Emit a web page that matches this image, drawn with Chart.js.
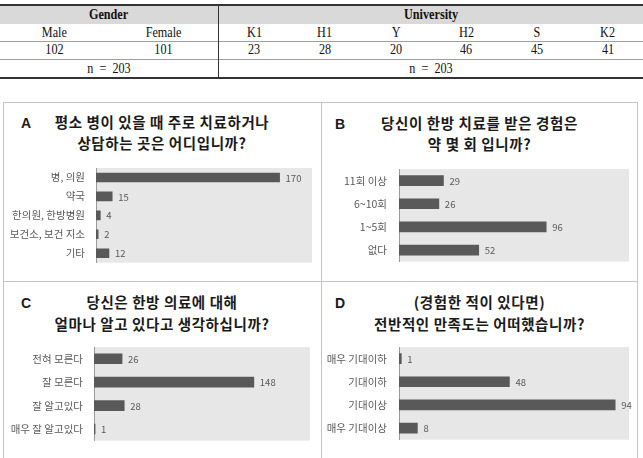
<!DOCTYPE html>
<html><head><meta charset="utf-8">
<script src="https://cdn.jsdelivr.net/npm/chart.js@4.4.1/dist/chart.umd.min.js"></script>
<style>
body{margin:0;background:#fff;width:643px;height:458px;overflow:hidden;position:relative;font-family:"Noto Sans CJK KR",sans-serif;}
.ab{position:absolute;}
.cell{position:absolute;text-align:center;font-family:"Liberation Serif",serif;font-size:14px;color:#111;line-height:18px;height:18px;}
.cell span{display:inline-block;transform:scaleX(0.87);white-space:pre;}
.hd{font-weight:bold;}
.ttl{position:absolute;text-align:center;font-family:"Noto Sans CJK KR",sans-serif;font-weight:bold;font-size:14.5px;letter-spacing:0.6px;line-height:20px;color:#1a1a1a;}
.let{position:absolute;font-family:"Liberation Sans",Arial,sans-serif;font-weight:bold;font-size:14px;line-height:20px;color:#1a1a1a;}
canvas{position:absolute;}
</style>
</head><body>
<div id="root"></div>
<script>
// ---- table data ----
const groupHeaders = ['Gender', 'University'];
const genderCats = ['Male', 'Female'];
const genderCounts = [102, 101];
const univCats = ['K1', 'H1', 'Y', 'H2', 'S', 'K2'];
const univCounts = [23, 28, 20, 46, 45, 41];
const totals = ['n = 203', 'n = 203'];

// ---- chart data ----
const titleA = ['평소 병이 있을 때 주로 치료하거나', '상담하는 곳은 어디입니까?'];
const catsA = ['병, 의원', '약국', '한의원, 한방병원', '보건소, 보건 지소', '기타'];
const valsA = [170, 15, 4, 2, 12];

const titleB = ['당신이 한방 치료를 받은 경험은', '약 몇 회 입니까?'];
const catsB = ['11회 이상', '6~10회', '1~5회', '없다'];
const valsB = [29, 26, 96, 52];

const titleC = ['당신은 한방 의료에 대해', '얼마나 알고 있다고 생각하십니까?'];
const catsC = ['전혀 모른다', '잘 모른다', '잘 알고있다', '매우 잘 알고있다'];
const valsC = [26, 148, 28, 1];

const titleD = ['(경험한 적이 있다면)', '전반적인 만족도는 어떠했습니까?'];
const catsD = ['매우 기대이하', '기대이하', '기대이상', '매우 기대이상'];
const valsD = [1, 48, 94, 8];

const panelLetters = ['A', 'B', 'C', 'D'];
const axisMax = [200, 150, 200, 100];

const root = document.getElementById('root');
function el(tag, cls, style, html) {
  const e = document.createElement(tag);
  if (cls) e.className = cls;
  Object.assign(e.style, style || {});
  if (html !== undefined) e.innerHTML = html;
  root.appendChild(e);
  return e;
}
// ---- table drawing ----
el('div', 'ab', {left:'0px', top:'6px', width:'643px', height:'18px', background:'#d9d9d9'});
el('div', 'ab', {left:'0px', top:'4px', width:'643px', height:'2px', background:'#333'});
el('div', 'ab', {left:'0px', top:'41px', width:'643px', height:'1px', background:'#a0a0a0'});
el('div', 'ab', {left:'0px', top:'59px', width:'643px', height:'1px', background:'#a0a0a0'});
el('div', 'ab', {left:'0px', top:'77px', width:'643px', height:'2px', background:'#333'});
el('div', 'ab', {left:'218px', top:'4px', width:'1px', height:'75px', background:'#333'});
const gL = 0, gW = 218, uL = 219, uW = 424;
function cell(x, w, y, txt, bold) {
  el('div', 'cell' + (bold ? ' hd' : ''), {left:x+'px', width:w+'px', top:y+'px'}, '<span>' + txt + '</span>');
}
cell(gL, gW, 6, groupHeaders[0], true);
cell(uL, uW, 6, groupHeaders[1], true);
genderCats.forEach((c, i) => { cell(gL + i*gW/2, gW/2, 24, c); cell(gL + i*gW/2, gW/2, 41, String(genderCounts[i])); });
univCats.forEach((c, i) => { cell(uL + i*uW/6, uW/6, 24, c); cell(uL + i*uW/6, uW/6, 41, String(univCounts[i])); });
cell(gL, gW, 60, totals[0].replace(/ /g, '  '));
cell(uL, uW, 60, totals[1].replace(/ /g, '  '));

// ---- panel frames ----
const fc = '#c4c4c4';
el('div', 'ab', {left:'3px', top:'102px', width:'635px', height:'1px', background:fc});
el('div', 'ab', {left:'3px', top:'281px', width:'635px', height:'1px', background:fc});
el('div', 'ab', {left:'3px', top:'102px', width:'1px', height:'360px', background:fc});
el('div', 'ab', {left:'321px', top:'102px', width:'1px', height:'360px', background:fc});
el('div', 'ab', {left:'637px', top:'102px', width:'1px', height:'360px', background:fc});

// ---- panels ----
const panels = [
  {title:titleA, cats:catsA, vals:valsA, box:[4,103,316,177], plot:[96,168,312,272], letter:[21,113], t1:112, t2:133, bar:9},
  {title:titleB, cats:catsB, vals:valsB, box:[323,103,313,177], plot:[399,169,629,272], letter:[335,114], t1:113, t2:134, bar:10},
  {title:titleC, cats:catsC, vals:valsC, box:[4,282,316,176], plot:[94,347,310,449], letter:[21,293], t1:292, t2:314, bar:10},
  {title:titleD, cats:catsD, vals:valsD, box:[323,282,313,176], plot:[399,347,629,449], letter:[335,293], t1:292, t2:314, bar:10}
];

const bgPlugin = {id:'plotbg', beforeDraw(c){ const a=c.chartArea, x=c.ctx; x.save(); x.fillStyle='#e7e7e7'; x.fillRect(a.left, a.top, a.right-a.left, a.bottom-a.top); x.restore(); }};
const valPlugin = {id:'vals', afterDatasetsDraw(c){
  const x=c.ctx, meta=c.getDatasetMeta(0), d=c.data.datasets[0].data;
  x.save(); x.font='9.5px "Noto Sans CJK KR"'; x.fillStyle='#595959'; x.textBaseline='middle'; x.textAlign='left';
  meta.data.forEach((b,i)=>{ x.fillText(String(d[i]), b.x + 6, b.y + 0.5); });
  x.restore();
}};

panels.forEach((p, i) => {
  const [bx, by, bw, bh] = p.box;
  const [pl, pt, pr, pb] = p.plot;
  el('div', 'let', {left:p.letter[0]+'px', top:p.letter[1]+'px'}, panelLetters[i]);
  el('div', 'ttl', {left:bx+'px', width:bw+'px', top:p.t1+'px'}, p.title[0]);
  el('div', 'ttl', {left:bx+'px', width:bw+'px', top:p.t2+'px'}, p.title[1]);
  const cv = el('canvas', '', {left:bx+'px', top:by+'px'});
  cv.width = bw; cv.height = bh;
  const yw = pl - bx;
  new Chart(cv, {
    type: 'bar',
    data: { labels: p.cats, datasets: [{ data: p.vals, backgroundColor: '#595959', borderWidth: 0, barThickness: p.bar }] },
    options: {
      indexAxis: 'y', responsive: false, animation: false, devicePixelRatio: 1,
      layout: { padding: { left: 0, top: pt - by, right: (bx + bw) - pr, bottom: (by + bh) - pb } },
      plugins: { legend: { display: false }, tooltip: { enabled: false }, title: { display: false } },
      scales: {
        x: { display: false, min: 0, max: axisMax[i] },
        y: {
          grid: { display: false, drawTicks: false },
          border: { display: true, color: '#9a9a9a', width: 1 },
          ticks: { padding: (i % 2 === 0) ? 11 : 12, color: '#595959', font: { family: 'Noto Sans CJK KR', size: 10.5 } },
          afterFit(s) { s.width = yw; }
        }
      }
    },
    plugins: [bgPlugin, valPlugin]
  });
});
</script>
</body></html>
